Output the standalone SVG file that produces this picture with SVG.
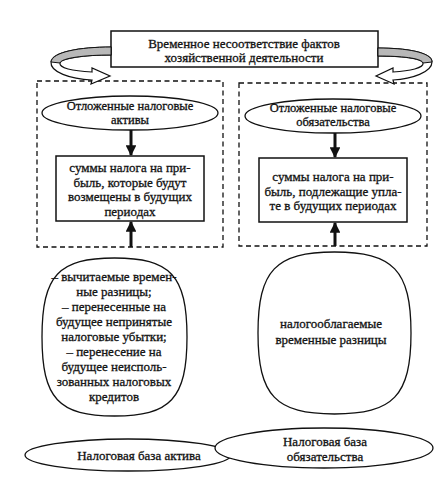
<svg xmlns="http://www.w3.org/2000/svg" width="440" height="477" viewBox="0 0 440 477">
<style>
.bx{fill:#fff;stroke:#111;stroke-width:1.5}
.ol{fill:#fff;stroke:#111;stroke-width:1.3}
.ds{fill:none;stroke:#111;stroke-width:1.3;stroke-dasharray:5,3.5}
.t{font-family:"Liberation Serif","DejaVu Serif",serif;font-size:13px;fill:#111;stroke:#111;stroke-width:0.3;text-anchor:middle}
.s{font-size:12.5px}
.sh{stroke:#111;stroke-width:3;fill:none}
.band{fill:#fff;stroke:#111;stroke-width:1.2;stroke-linejoin:miter}
.back{fill:#b8b8b8;stroke:#111;stroke-width:1}
</style>
<defs>
<marker id="ah" viewBox="0 0 10 10" refX="9" refY="5" markerWidth="3.6" markerHeight="3.6" orient="auto" markerUnits="strokeWidth">
<path d="M0,0 L10,5 L0,10 Z" fill="#111"/>
</marker>
</defs>
<rect width="440" height="477" fill="#fff"/>

<g id="dashed-left"><rect class="ds" x="37" y="81" width="186" height="166"/></g>
<g id="dashed-right"><rect class="ds" x="239" y="83" width="188" height="163"/></g>

<g id="top">
<rect class="bx" x="111" y="31" width="267" height="36"/>
<text class="t" x="244" y="48">Временное несоответствие фактов</text>
<text class="t" x="244" y="62">хозяйственной деятельности</text>
</g>

<g id="connectors">
<path class="band" d="M111,47 C80,47 52,52 51,62 C50,72 70,79 92,80 L91,84 L110,76 L92,68 L92,72 C72,71 59,68 60,63 C61,58 85,55 111,55 Z"/>
<path class="back" d="M111,47 C80,47 52,52 51,62 L60,63 C61,58 85,55 111,55 Z"/>
<path class="band" d="M378,48 C405,48 432,52 432,62 C432,72 412,79 393,80 L394,84 L376,76 L393,68 L393,72 C410,71 424,68 423,63 C422,58 400,56 378,56 Z"/>
<path class="back" d="M378,48 C405,48 432,52 432,62 L423,63 C422,58 400,56 378,56 Z"/>
<line class="sh" x1="131" y1="130" x2="131" y2="155" marker-end="url(#ah)"/>
<line class="sh" x1="335" y1="133" x2="335" y2="157" marker-end="url(#ah)"/>
<line class="sh" x1="131" y1="247" x2="131" y2="222" marker-end="url(#ah)"/>
<line class="sh" x1="335" y1="246" x2="335" y2="223" marker-end="url(#ah)"/>
</g>

<g id="dna">
<ellipse class="ol" cx="130" cy="113" rx="88" ry="17"/>
<text class="t s" x="130" y="110">Отложенные налоговые</text>
<text class="t s" x="130" y="124">активы</text>
</g>
<g id="dno">
<ellipse class="ol" cx="333" cy="116" rx="88" ry="17"/>
<text class="t s" x="333" y="112">Отложенные налоговые</text>
<text class="t s" x="333" y="126">обязательства</text>
</g>

<g id="box-left">
<rect class="bx" x="56" y="156" width="148" height="65"/>
<text class="t" x="130" y="172">суммы налога на при-</text>
<text class="t" x="130" y="187">быль, которые будут</text>
<text class="t" x="130" y="201">возмещены в будущих</text>
<text class="t" x="130" y="216">периодах</text>
</g>
<g id="box-right">
<rect class="bx" x="259" y="158" width="148" height="64"/>
<text class="t" x="333" y="181">суммы налога на при-</text>
<text class="t" x="333" y="196">быль, подлежащие упла-</text>
<text class="t" x="333" y="210">те в будущих периодах</text>
</g>

<g id="sq-left">
<path class="ol" d="M114.5,258 C170,258 187,275 187,337 C187,399 170,416 114.5,416 C59,416 42,399 42,337 C42,275 59,258 114.5,258 Z"/>
<text class="t" x="114" y="281">– вычитаемые времен-</text>
<text class="t" x="114" y="296">ные разницы;</text>
<text class="t" x="114" y="311">– перенесенные на</text>
<text class="t" x="114" y="326">будущее непринятые</text>
<text class="t" x="114" y="341">налоговые убытки;</text>
<text class="t" x="114" y="356">– перенесение на</text>
<text class="t" x="114" y="371">будущее неисполь-</text>
<text class="t" x="114" y="386">зованных налоговых</text>
<text class="t" x="114" y="401">кредитов</text>
</g>
<g id="sq-right">
<path class="ol" d="M334.5,252 C393,252 411,270 411,333 C411,396 393,414 334.5,414 C276,414 258,396 258,333 C258,270 276,252 334.5,252 Z"/>
<text class="t" x="331" y="328">налогооблагаемые</text>
<text class="t" x="331" y="344">временные разницы</text>
</g>

<g id="base-left">
<ellipse class="ol" cx="128" cy="455" rx="103" ry="16"/>
<text class="t" x="139" y="460">Налоговая база актива</text>
</g>
<g id="base-right">
<ellipse class="ol" cx="324" cy="448" rx="109" ry="20"/>
<text class="t" x="325" y="446">Налоговая база</text>
<text class="t" x="325" y="461">обязательства</text>
</g>
</svg>
